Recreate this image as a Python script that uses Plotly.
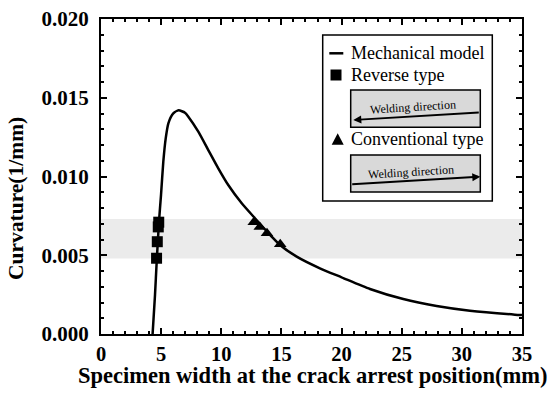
import plotly.graph_objects as go

# ---- data ----
model_x = [4.29, 4.49, 4.63, 4.82, 4.99, 5.18, 5.38, 5.60, 6.01, 6.45, 6.98, 7.26, 8.09,
           8.92, 9.75, 10.58, 11.70, 12.80, 14.19, 14.88, 16.27, 18.2, 20.0, 22.36,
           25.13, 27.9, 30.67, 34.41, 35.0]
model_y = [0.0, 0.00248, 0.00459, 0.00713, 0.00883, 0.01094, 0.01242, 0.01338, 0.01401,
           0.01420, 0.01405, 0.0138, 0.01285, 0.01168, 0.01052, 0.00946, 0.0083, 0.00735,
           0.00618, 0.00565, 0.00491, 0.00417, 0.0036, 0.00286, 0.00222, 0.00178,
           0.00148, 0.00123, 0.0012]
reverse_x = [4.62, 4.68, 4.76, 4.80]
reverse_y = [0.00481, 0.00586, 0.0068, 0.0071]
conv_x = [12.7, 13.2, 13.8, 14.9]
conv_y = [0.0071, 0.0068, 0.0064, 0.0057]
band_low, band_high = 0.0048, 0.0073

x_ticks = [0, 5, 10, 15, 20, 25, 30, 35]
y_ticks = [0.0, 0.005, 0.010, 0.015, 0.020]

FONT = "Liberation Serif, 'Times New Roman', Times, serif"
W, H = 550, 393
L, R, T, B = 101, 28, 19, 59
PW, PH = W - L - R, H - T - B


def px(x):
    return (x - L) / PW


def py(y):
    return (H - B - y) / PH


fig = go.Figure()
fig.add_trace(go.Scatter(x=model_x, y=model_y, mode="lines",
                         line=dict(color="black", width=2.5, shape="spline", smoothing=0.6),
                         showlegend=False))
fig.add_trace(go.Scatter(x=reverse_x, y=reverse_y, mode="markers",
                         marker=dict(symbol="square", size=11, color="black"),
                         showlegend=False))
fig.add_trace(go.Scatter(x=conv_x, y=conv_y, mode="markers",
                         marker=dict(symbol="triangle-up", size=11, color="black"),
                         showlegend=False))

shapes = []
annotations = []
# gray band
shapes.append(dict(type="rect", xref="paper", yref="y", x0=0, x1=1, y0=band_low, y1=band_high,
                   fillcolor="#ebebeb", line=dict(width=0), layer="below"))

# legend box
shapes.append(dict(type="rect", xref="paper", yref="paper", x0=px(322.7), x1=px(492.3),
                   y0=py(201), y1=py(35), line=dict(color="black", width=1.5),
                   fillcolor="white"))
shapes.append(dict(type="line", xref="paper", yref="paper", x0=px(329.3), x1=px(343.3),
                   y0=py(53.3), y1=py(53.3), line=dict(color="black", width=2.5)))
# square symbol
sq = 5.5
shapes.append(dict(type="rect", xref="paper", yref="paper", x0=px(336 - sq), x1=px(336 + sq),
                   y0=py(75 + sq), y1=py(75 - sq), fillcolor="black", line=dict(width=0)))
# triangle symbol
tx, ty = 337.7, 139.3
shapes.append(dict(type="path", xref="paper", yref="paper",
                   path=f"M {px(tx-6)} {py(ty+5.5)} L {px(tx+6)} {py(ty+5.5)} L {px(tx)} {py(ty-6)} Z",
                   fillcolor="black", line=dict(width=0)))
# inner rects
for (y0, y1) in [(90, 127.3), (155, 192)]:
    shapes.append(dict(type="rect", xref="paper", yref="paper", x0=px(350.7), x1=px(480.3),
                       y0=py(y1), y1=py(y0), fillcolor="#d9d9d9",
                       line=dict(color="black", width=1.5)))

for txt, yy in [("Mechanical model", 53.3), ("Reverse type", 75), ("Conventional type", 139.3)]:
    annotations.append(dict(text=txt, xref="paper", yref="paper", x=px(349), y=py(yy),
                            xanchor="left", yanchor="middle", showarrow=False,
                            font=dict(family=FONT, size=18, color="black")))
# arrows
annotations.append(dict(xref="paper", yref="paper", x=px(353.3), y=py(120), ax=127, ay=-7.7,
                        text="", showarrow=True, arrowhead=2, arrowsize=0.8, arrowwidth=2,
                        arrowcolor="black"))
annotations.append(dict(xref="paper", yref="paper", x=px(480.3), y=py(176.7), ax=-129.6, ay=7.6,
                        text="", showarrow=True, arrowhead=2, arrowsize=0.8, arrowwidth=2,
                        arrowcolor="black"))
for cx, cy in [(413.3, 107.3), (411, 171.7)]:
    annotations.append(dict(text="Welding direction", xref="paper", yref="paper", x=px(cx),
                            y=py(cy), xanchor="center", yanchor="middle", showarrow=False,
                            textangle=-3.5, font=dict(family=FONT, size=12, color="black")))

# axis titles
annotations.append(dict(text="<b>Specimen width at the crack arrest position(mm)</b>",
                        xref="paper", yref="paper", x=px(313), y=py(375.5),
                        xanchor="center", yanchor="middle", showarrow=False,
                        font=dict(family=FONT, size=22.5, color="black")))
annotations.append(dict(text="<b>Curvature(1/mm)</b>", xref="paper", yref="paper",
                        x=px(16), y=py(199), xanchor="center", yanchor="middle",
                        showarrow=False, textangle=-90,
                        font=dict(family=FONT, size=21.5, color="black")))

axis_common = dict(showline=True, linecolor="black", linewidth=2, mirror="allticks",
                   ticks="inside", ticklen=6, tickwidth=2, tickcolor="black",
                   showgrid=False, zeroline=False, automargin=False)

fig.update_layout(
    width=W, height=H, margin=dict(l=L, r=R, t=T, b=B),
    plot_bgcolor="white", paper_bgcolor="white",
    font=dict(family=FONT, color="black"),
    shapes=shapes, annotations=annotations, showlegend=False,
    xaxis=dict(range=[0, 35], tickvals=x_ticks, ticktext=[str(v) for v in x_ticks],
               minor=dict(ticks="inside", dtick=1, ticklen=3, tickwidth=1.5, tickcolor="black"),
               ticklabelstandoff=0,
               tickfont=dict(family=FONT, size=20.5, color="black", weight="bold"),
               **axis_common),
    yaxis=dict(range=[0, 0.020], tickvals=y_ticks, ticktext=[f"{v:.3f}" for v in y_ticks],
               minor=dict(ticks="inside", dtick=0.001, ticklen=3, tickwidth=1.5, tickcolor="black"),
               ticklabelstandoff=6,
               tickfont=dict(family=FONT, size=21, color="black", weight="bold"),
               **axis_common),
)

fig.write_html("out.html", config={"displayModeBar": False},
               post_script="document.body.style.margin='0';")
